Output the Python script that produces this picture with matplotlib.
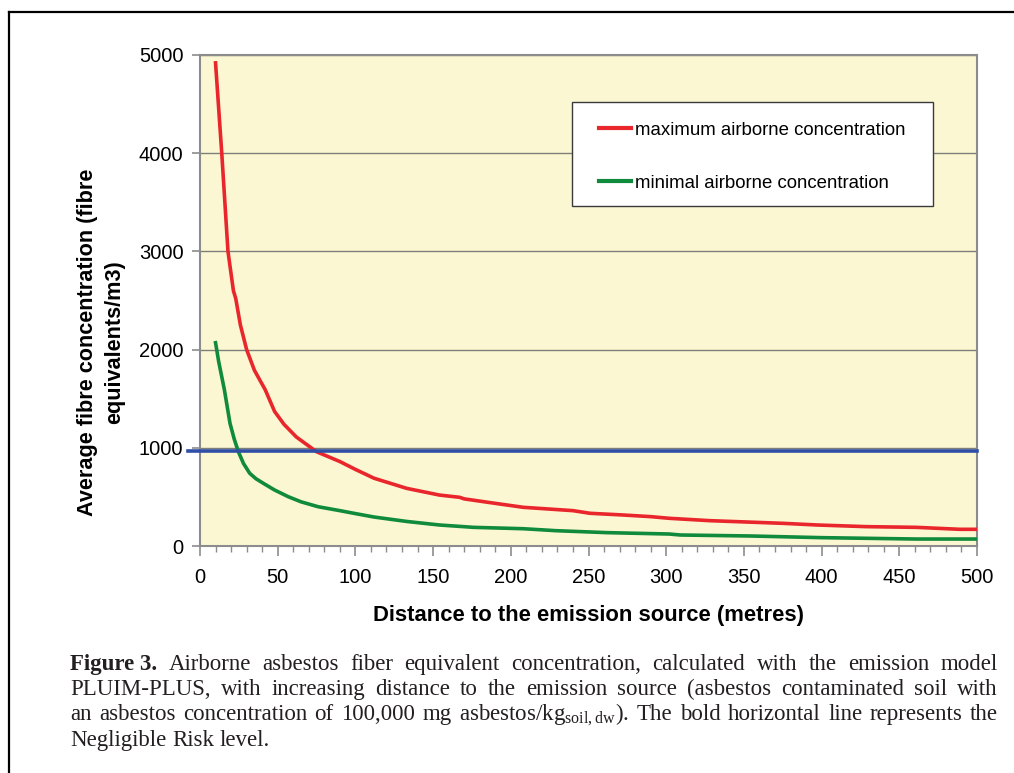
import numpy as np
import matplotlib
matplotlib.use('Agg')
import matplotlib.pyplot as plt
from matplotlib.lines import Line2D
from matplotlib.patches import Rectangle
from matplotlib.transforms import IdentityTransform

plt.rcParams['font.family'] = ['Liberation Sans', 'DejaVu Sans']
plt.rcParams['mathtext.fontset'] = 'custom'
plt.rcParams['mathtext.rm'] = 'Liberation Serif'

# distance to source (m) and airborne concentrations (fibre equivalents/m3)
max_dist = [10, 14, 18, 21.5, 23, 26, 30, 35, 42, 48, 54, 62, 75, 90, 100, 112,
            133, 154, 167, 170, 187, 208, 240, 251, 272, 290, 302, 328, 375,
            397, 429, 461, 489, 500]
max_conc = [4920, 4000, 3000, 2600, 2520, 2250, 2000, 1790, 1590, 1370, 1240,
            1110, 960, 860, 780, 690, 587, 519, 496, 480, 441, 394, 360, 333,
            316, 299, 282, 258, 231, 214, 197, 190, 170, 170]

min_dist = [10, 12, 15.7, 19.3, 22, 24.7, 28, 32, 36, 40.8, 48, 56.8, 65, 76,
            90, 100, 112, 133, 154, 176, 208, 229, 262, 302, 309, 354, 400,
            461, 500]
min_conc = [2070, 1880, 1590, 1250, 1090, 960, 840, 740, 685, 638, 570, 502,
            450, 400, 360, 330, 295, 250, 214, 190, 176, 156, 136, 122, 112,
            102, 85, 71, 71]

risk_level = 965

LABELS = {
    'max': 'maximum airborne concentration',
    'min': 'minimal airborne concentration',
}
COLORS = {
    'max': '#e8262b',
    'min': '#108a3c',
    'risk': '#2f4ea6',
}

CAPTION = [
    [('Figure 3.', 'bold')] + [(w, 'normal') for w in
        'Airborne asbestos fiber equivalent concentration, calculated with the emission model'.split()],
    [(w, 'normal') for w in
        'PLUIM-PLUS, with increasing distance to the emission source (asbestos contaminated soil with'.split()],
    [(w, 'normal') for w in
        'an asbestos concentration of 100,000 mg asbestos/kg$_{\\mathrm{soil,dw}}$). The bold horizontal line represents the'.split()],
    [(w, 'normal') for w in 'Negligible Risk level.'.split()],
]
CAPTION_SIZE = 16.5

W, H = 1014, 773
fig = plt.figure(figsize=(W / 100, H / 100), dpi=100)
ax = fig.add_axes([200 / W, 1 - 546 / H, 777 / W, 491 / H])
ax.set_facecolor('#fcf7d3')

ax.plot(max_dist, max_conc, color=COLORS['max'], lw=2.6, label=LABELS['max'], zorder=4)
ax.plot(min_dist, min_conc, color=COLORS['min'], lw=2.6, label=LABELS['min'], zorder=4)
ax.axhline(risk_level, xmin=-0.015, xmax=1, color=COLORS['risk'], lw=2.6,
           clip_on=False, zorder=5)

ax.set_xlim(0, 500)
ax.set_ylim(0, 5000)
ax.set_xticks(np.arange(0, 501, 50))
ax.set_xticks(np.arange(0, 501, 10), minor=True)
ax.set_yticks(np.arange(0, 5001, 1000))
ax.grid(axis='y', color='#7f7f7a', lw=1.0, zorder=1)
ax.set_axisbelow(True)
for sp in ax.spines.values():
    sp.set_color('#8c8c8c')
    sp.set_linewidth(1.5)
ax.tick_params(axis='both', which='major', labelsize=14.5, color='#8c8c8c',
               width=1.2, direction='out')
ax.tick_params(axis='x', which='major', length=7, pad=9)
ax.tick_params(axis='x', which='minor', length=4, width=1.0, color='#8c8c8c')
ax.tick_params(axis='y', which='major', length=6, pad=6)

ax.set_xlabel('Distance to the emission source (metres)', fontsize=15.8,
              fontweight='bold', va='top')
ax.xaxis.set_label_coords(0.5, -0.120)
ax.set_ylabel('Average fibre concentration (fibre\nequivalents/m3)', fontsize=15.6,
              fontweight='bold', linespacing=1.38)
ax.yaxis.set_label_coords(-0.097, 0.415)

# legend box
ax.add_patch(Rectangle((0.4788, 0.6925), 0.4646, 0.2118, transform=ax.transAxes,
                       facecolor='white', edgecolor='#3a3a3a', lw=1.0, zorder=6))
leg = ax.legend(loc='upper left', bbox_to_anchor=(0.5135, 0.864), frameon=False,
                borderpad=0, borderaxespad=0, fontsize=13.4, handlelength=1.72,
                handletextpad=0.22, labelspacing=1.94)
leg.set_zorder(7)
for h in leg.legend_handles:
    h.set_linewidth(3)

# outer frame
fig.add_artist(Line2D([9 / W, 1], [1 - 12 / H, 1 - 12 / H], color='black', lw=1.6))
fig.add_artist(Line2D([9 / W, 9 / W], [0, 1 - 12 / H], color='black', lw=1.6))

# justified caption
renderer = fig.canvas.get_renderer()
x0, x1 = 70, 998
baselines = [670, 695, 720, 746]
for i, (line, base) in enumerate(zip(CAPTION, baselines)):
    texts = []
    for word, weight in line:
        t = fig.text(0, H - base, word, transform=IdentityTransform(), fontsize=CAPTION_SIZE,
                     family='Liberation Serif', weight=weight, color='#231f20',
                     va='baseline', ha='left')
        texts.append(t)
    widths = [t.get_window_extent(renderer).width for t in texts]
    if i < len(CAPTION) - 1:
        gap = (x1 - x0 - sum(widths)) / (len(texts) - 1)
    else:
        sp = fig.text(0, 0, 'a a', fontsize=CAPTION_SIZE, family='Liberation Serif')
        sa = fig.text(0, 0, 'aa', fontsize=CAPTION_SIZE, family='Liberation Serif')
        gap = sp.get_window_extent(renderer).width - sa.get_window_extent(renderer).width
        sp.remove()
        sa.remove()
    x = x0
    for t, w in zip(texts, widths):
        t.set_x(x)
        x += w + gap

fig.savefig('out.png', dpi=100)
